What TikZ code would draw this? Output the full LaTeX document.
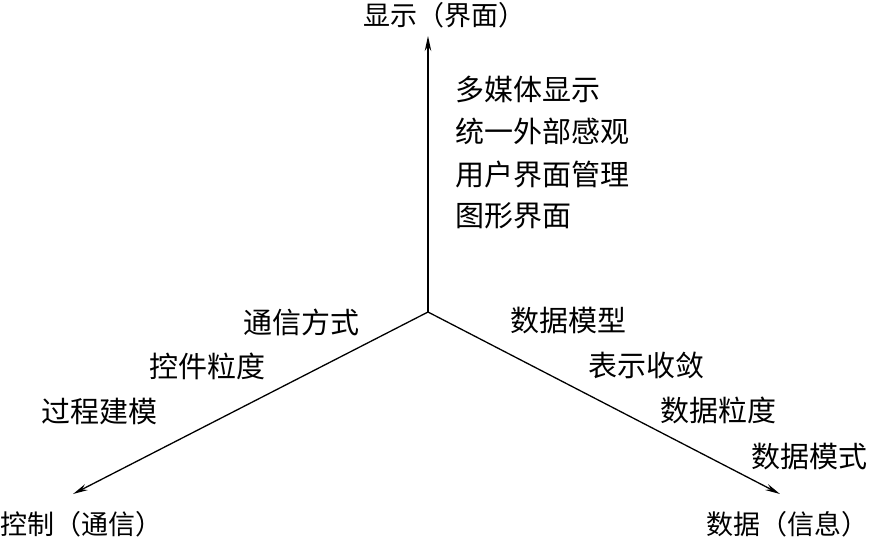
\documentclass[tikz,border=0pt]{standalone}
\usepackage{fontspec}
\setmainfont{Noto Sans CJK SC}
\usetikzlibrary{arrows.meta}
\begin{document}
\begin{tikzpicture}[x=1pt,y=-1pt,
  lab/.style={inner sep=0pt,font=\fontsize{29}{33}\selectfont},
  axlab/.style={inner sep=0pt,font=\fontsize{27}{31}\selectfont},
  axis/.style={line width=1.3pt,-{Stealth[length=15pt,width=6.5pt]}}]
\useasboundingbox (0,0) rectangle (870,542);
\coordinate (o) at (428,312);
\coordinate (top) at (428,36);
\coordinate (lt) at (73,494);
\coordinate (rt) at (780,494);
\draw[axis] (o) -- (top);
\draw[axis] (o) -- (lt);
\draw[axis] (o) -- (rt);
\node[axlab] (ttop) at (444,15) {显示（界面）};
\node[axlab,anchor=west] (tlt) at (0,524) {控制（通信）};
\node[axlab,anchor=east] (trt) at (869,524) {数据（信息）};
\node[lab,anchor=west] (u1) at (455,89) {多媒体显示};
\node[lab,anchor=west] (u2) at (455,131) {统一外部感观};
\node[lab,anchor=west] (u3) at (455,174) {用户界面管理};
\node[lab,anchor=west] (u4) at (455,216) {图形界面};
\node[lab,anchor=east] (l1) at (360,322) {通信方式};
\node[lab,anchor=east] (l2) at (266,366) {控件粒度};
\node[lab,anchor=east] (l3) at (158,411) {过程建模};
\node[lab,anchor=west] (r1) at (510,320) {数据模型};
\node[lab,anchor=west] (r2) at (588,365) {表示收敛};
\node[lab,anchor=west] (r3) at (660,410) {数据粒度};
\node[lab,anchor=east] (r4) at (868,456) {数据模式};
\end{tikzpicture}
\end{document}
